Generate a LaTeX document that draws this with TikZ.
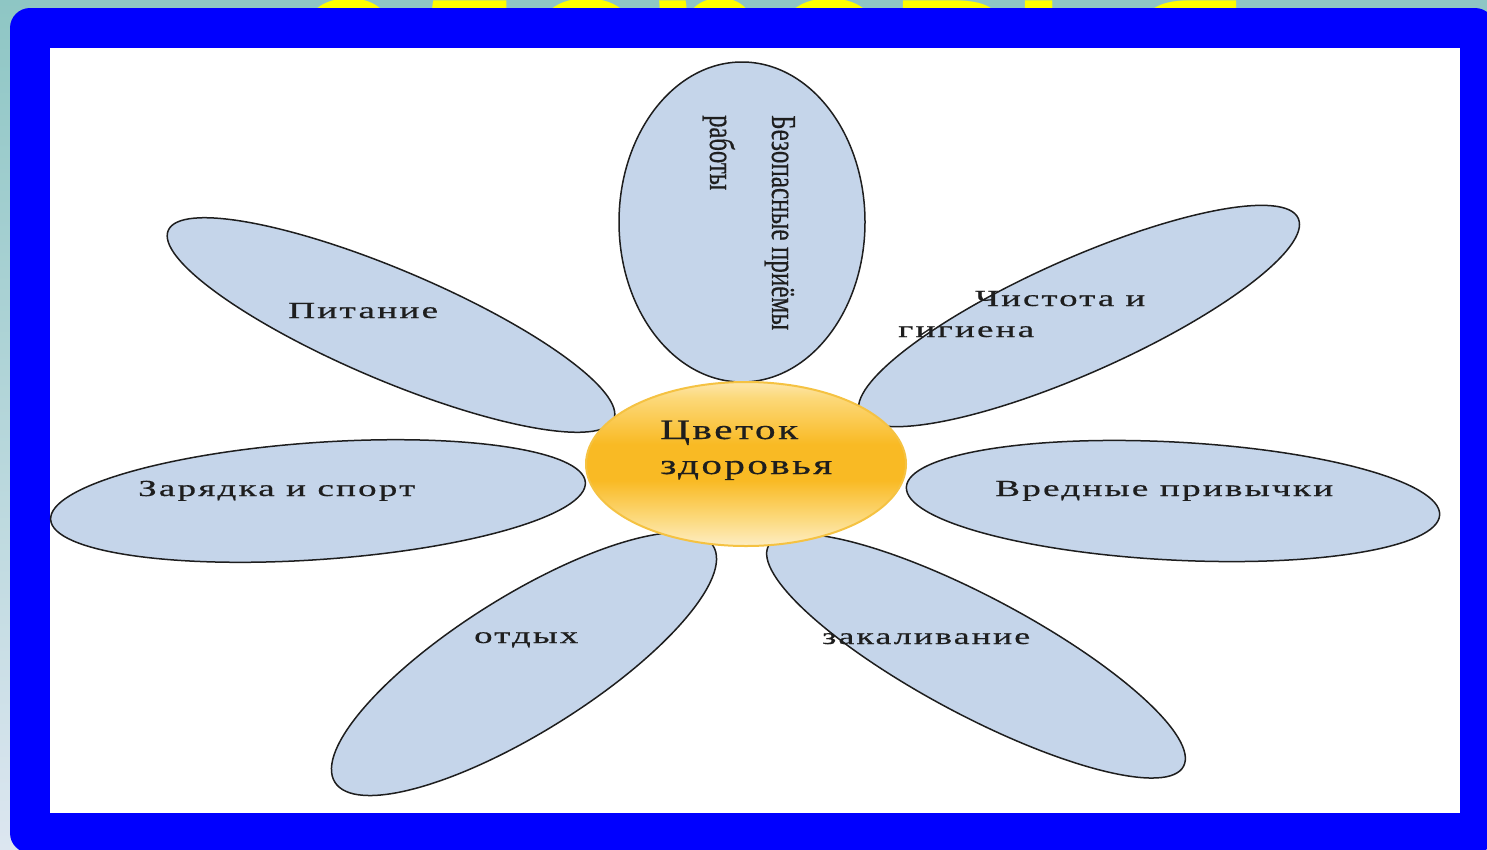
\documentclass[tikz,border=0pt]{standalone}
\usepackage{fontspec}
\setmainfont{Liberation Serif}
\newfontfamily\labfont{Liberation Serif}[LetterSpace=6, FakeBold=0.5]
\newfontfamily\vfont{Liberation Serif}[FakeBold=0.5]
\newfontfamily\titlefont{Liberation Sans}
\usetikzlibrary{shapes.geometric}
\definecolor{bgtop}{HTML}{8EC6C4}
\definecolor{bgbot}{HTML}{DCE6F0}
\definecolor{framec}{HTML}{0000FF}
\definecolor{petalc}{HTML}{C5D5EA}
\definecolor{coreedge}{HTML}{F5C242}
\definecolor{corel1}{HTML}{FEF4DC}
\definecolor{corel2}{HTML}{FCD878}
\definecolor{coremid}{HTML}{F9BA24}
\definecolor{inkc}{HTML}{1E1E1E}
\definecolor{titlec}{HTML}{FFFF00}
\pgfdeclareverticalshading{coreshade}{100bp}{color(0bp)=(corel1); color(22bp)=(corel1); color(34bp)=(corel2); color(45bp)=(coremid); color(56bp)=(coremid); color(70bp)=(corel2); color(80bp)=(corel1); color(100bp)=(corel1)}
\newcommand\plab[2]{\resizebox{#1pt}{\height}{#2}}
\begin{document}
\begin{tikzpicture}[x=1pt,y=-1pt,
  petal/.style={ellipse, draw=inkc, line width=1.5pt, fill=petalc, inner sep=0pt},
  core/.style={ellipse, draw=coreedge, line width=2pt, inner sep=0pt, shading=coreshade},
  lab/.style={inner sep=0pt, anchor=base west, text=inkc, font=\labfont\fontsize{23}{23}\selectfont},
  corelab/.style={lab, font=\labfont\fontsize{28}{28}\selectfont},
  vlab/.style={lab, rotate=-90, font=\vfont\fontsize{35}{35}\selectfont}]
\useasboundingbox (0,0) rectangle (1487,849);
\fill[top color=bgtop, bottom color=bgbot] (0,0) rectangle (1487,849);
% partly hidden title
\begin{scope}
\clip (0,0) rectangle (1487,12);
\node[inner sep=0pt, anchor=base, text=titlec,
  font=\titlefont\bfseries\fontsize{200}{200}\selectfont] (title) at (775,106)
  {\resizebox{950pt}{\height}{здоровья}};
\end{scope}
% frame
\fill[framec, rounded corners=20pt] (10,8) rectangle (1495,853);
\fill[white] (50,48) rectangle (1460,813);
% petals
\node[petal, minimum width=246pt, minimum height=320pt] (p1) at (742,222) {};
\node[petal, minimum width=484pt, minimum height=110pt, rotate=-23] (p2) at (391,325) {};
\node[petal, minimum width=480pt, minimum height=114pt, rotate=24] (p3) at (1079,316) {};
\node[petal, minimum width=536pt, minimum height=117pt, rotate=4] (p4) at (318,501) {};
\node[petal, minimum width=534pt, minimum height=118pt, rotate=-3] (p5) at (1173,501) {};
\node[petal, minimum width=446pt, minimum height=136pt, rotate=32] (p6) at (524,664) {};
\node[petal, minimum width=470pt, minimum height=118pt, rotate=-28] (p7) at (976,656) {};
% core
\node[core, minimum width=320pt, minimum height=164pt] (c) at (746,464) {};
% labels
\node[vlab] (t1a) at (772,115) {\plab{215}{Безопасные приёмы}};
\node[vlab] (t1b) at (710,115) {\plab{75}{работы}};
\node[lab] (t2) at (288,318) {\plab{150}{Питание}};
\node[lab] (t3a) at (975,306) {\plab{170}{Чистота и}};
\node[lab] (t3b) at (898,337) {\plab{136}{гигиена}};
\node[lab] (t4) at (138,496) {\plab{277}{Зарядка и спорт}};
\node[lab] (t5) at (995,496) {\plab{338}{Вредные привычки}};
\node[lab] (t6) at (474,643) {\plab{104}{отдых}};
\node[lab] (t7) at (822,644) {\plab{208}{закаливание}};
\node[corelab] (tc1) at (660,439) {\plab{138}{Цветок}};
\node[corelab] (tc2) at (660,474) {\plab{172}{здоровья}};
\end{tikzpicture}
\end{document}
